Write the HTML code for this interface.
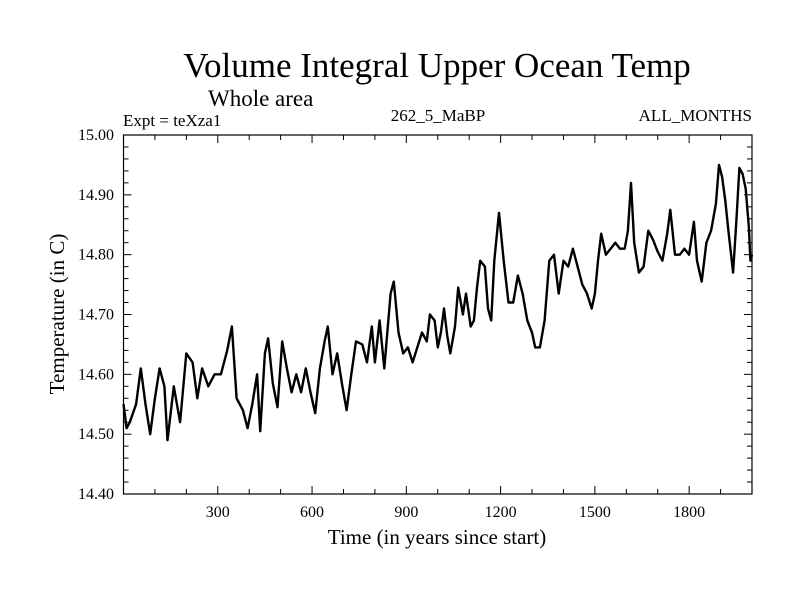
<!DOCTYPE html>
<html><head><meta charset="utf-8"><style>
body{margin:0;background:#fff;}
svg{display:block;font-family:"Liberation Serif",serif;}
</style></head><body>
<svg id="chart" width="800" height="600" viewBox="0 0 800 600">
<rect width="800" height="600" fill="#fff"/>
<text x="437" y="77" font-size="35" text-anchor="middle">Volume Integral Upper Ocean Temp</text>
<text x="208" y="106" font-size="23">Whole area</text>
<text x="123" y="126" font-size="17">Expt = teXza1</text>
<text x="438" y="121" font-size="17" text-anchor="middle">262_5_MaBP</text>
<text x="752" y="121" font-size="17" text-anchor="end">ALL_MONTHS</text>
<text x="437" y="544" font-size="21" text-anchor="middle">Time (in years since start)</text>
<text transform="translate(64,314) rotate(-90)" font-size="21" text-anchor="middle">Temperature (in C)</text>
<g id="axes"></g>
<g id="series"></g>
</svg>
<script>
const xTicks=[300,600,900,1200,1500,1800];
const yTicks=[14.40,14.50,14.60,14.70,14.80,14.90,15.00];
const years=[0,10,20,40,55,70,85,100,115,130,140,160,180,200,220,235,250,270,290,310,330,345,360,380,395,410,425,435,450,460,475,490,505,520,535,550,565,580,595,610,625,640,650,665,680,695,710,725,740,760,775,790,800,815,830,850,860,875,890,905,920,935,950,965,975,990,1000,1010,1020,1030,1040,1055,1065,1080,1090,1105,1115,1125,1135,1150,1160,1170,1180,1195,1210,1225,1240,1255,1270,1285,1300,1310,1325,1340,1355,1370,1385,1400,1415,1430,1445,1460,1475,1490,1500,1510,1520,1535,1550,1565,1580,1595,1605,1615,1625,1640,1655,1670,1685,1700,1715,1730,1740,1755,1770,1785,1800,1815,1825,1840,1855,1870,1885,1895,1905,1915,1925,1940,1950,1960,1970,1980,1990,1995,2000];
const temps=[14.55,14.51,14.52,14.55,14.61,14.55,14.50,14.56,14.61,14.58,14.49,14.58,14.52,14.635,14.62,14.56,14.61,14.58,14.60,14.60,14.64,14.68,14.56,14.54,14.51,14.55,14.60,14.505,14.635,14.66,14.585,14.545,14.655,14.61,14.57,14.60,14.57,14.61,14.57,14.535,14.61,14.655,14.68,14.60,14.635,14.585,14.54,14.60,14.655,14.65,14.62,14.68,14.62,14.69,14.61,14.735,14.755,14.67,14.635,14.645,14.62,14.645,14.67,14.655,14.70,14.69,14.645,14.67,14.71,14.665,14.635,14.68,14.745,14.70,14.735,14.68,14.69,14.745,14.79,14.78,14.71,14.69,14.79,14.87,14.79,14.72,14.72,14.765,14.735,14.69,14.67,14.645,14.645,14.69,14.79,14.80,14.735,14.79,14.78,14.81,14.78,14.75,14.735,14.71,14.735,14.79,14.835,14.80,14.81,14.82,14.81,14.81,14.84,14.92,14.82,14.77,14.78,14.84,14.825,14.805,14.79,14.835,14.875,14.80,14.80,14.81,14.80,14.855,14.79,14.755,14.82,14.84,14.885,14.95,14.93,14.89,14.84,14.77,14.855,14.945,14.935,14.91,14.845,14.79,14.80];
const L=123.5,R=752,T=135,B=494,X0=0,X1=2000,Y0=14.4,Y1=15.0;
const sx=v=>L+(v-X0)/(X1-X0)*(R-L);
const sy=v=>B-(v-Y0)/(Y1-Y0)*(B-T);
const NS="http://www.w3.org/2000/svg";
const axes=document.getElementById('axes');
function mk(tag,attrs,parent){const e=document.createElementNS(NS,tag);for(const k in attrs)e.setAttribute(k,attrs[k]);parent.appendChild(e);return e;}
const frame=mk('rect',{x:L,y:T,width:R-L,height:B-T,fill:'none',stroke:'#000','stroke-width':1.2},axes);


for(let v=100;v<2000;v+=100){
  const major=v%300===0, len=major?8:5, x=sx(v);
  const t1=mk('line',{x1:x,x2:x,y1:B,y2:B-len,stroke:'#000','stroke-width':1},axes);
  
  
  const t2=mk('line',{x1:x,x2:x,y1:T,y2:T+len,stroke:'#000','stroke-width':1},axes);
  
  
}
xTicks.forEach(v=>{
  const t=mk('text',{x:sx(v),y:B+23,'font-size':16,'text-anchor':'middle'},axes);
  t.textContent=v;
  
  
});
for(let i=1;i<30;i++){
  const v=Y0+i*0.02, major=i%5===0, len=major?8:5, y=sy(v);
  const t1=mk('line',{x1:L,x2:L+len,y1:y,y2:y,stroke:'#000','stroke-width':1},axes);
  
  
  const t2=mk('line',{x1:R,x2:R-len,y1:y,y2:y,stroke:'#000','stroke-width':1},axes);
  
  
}
yTicks.forEach(v=>{
  const t=mk('text',{x:114,y:sy(v)+5,'font-size':16,'text-anchor':'end'},axes);
  t.textContent=v.toFixed(2);
  
  
});
const d=years.map((yr,i)=>(i?'L':'M')+sx(yr).toFixed(1)+','+sy(temps[i]).toFixed(1)).join('');
const line=mk('path',{d:d,fill:'none',stroke:'#000','stroke-width':2.4,'stroke-linejoin':'round'},document.getElementById('series'));


</script>
</body></html>
